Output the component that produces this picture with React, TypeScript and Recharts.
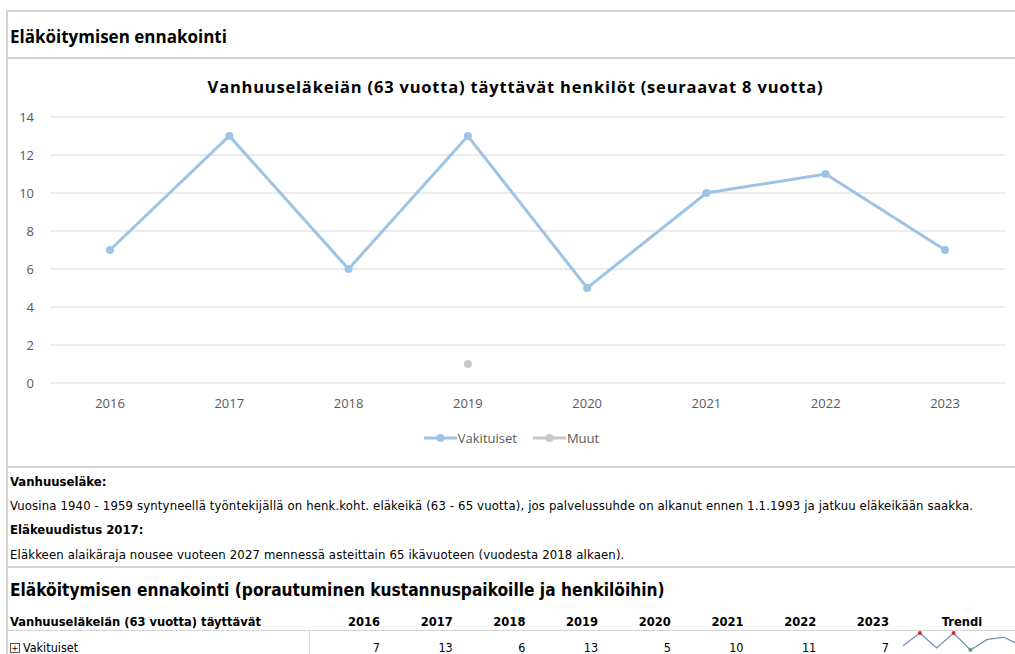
import { LineChart, Line, XAxis, YAxis, CartesianGrid, Legend } from "recharts";

const years = ["2016", "2017", "2018", "2019", "2020", "2021", "2022", "2023"];
const vakituiset = [7, 13, 6, 13, 5, 10, 11, 7];
const muut: (number | null)[] = [null, null, null, 1, null, null, null, null];
const yTicks = [0, 2, 4, 6, 8, 10, 12, 14];
const seriesOrder = ["Vakituiset", "Muut"];

const BLUE = "#9dc3e6";
const GRAY = "#c9c9c9";
const LINE = "#d4d4d4";
const FONT = "'Open Sans', sans-serif";
const NARROW = "'DejaVu Sans Condensed', 'DejaVu Sans', sans-serif";

const chartData = years.map((y, i) => ({
  year: y,
  Vakituiset: vakituiset[i],
  Muut: muut[i],
}));

const maxVal = Math.max(...vakituiset);
const minVal = Math.min(...vakituiset);

function LegendContent({ payload }: any) {
  const items = [...(payload || [])].sort(
    (a: any, b: any) => seriesOrder.indexOf(a.value) - seriesOrder.indexOf(b.value)
  );
  return (
    <div style={{ display: "flex", justifyContent: "center", gap: 16, paddingLeft: 18, fontFamily: FONT, fontSize: 13, color: "#595959" }}>
      {items.map((p: any) => (
        <div key={p.value} style={{ display: "flex", alignItems: "center", height: 20 }}>
          <svg width={33} height={10} style={{ marginRight: 1 }}>
            <line x1={0} y1={5} x2={33} y2={5} stroke={p.color} strokeWidth={3} />
            <circle cx={16.5} cy={5} r={4} fill={p.color} />
          </svg>
          <span>{p.value}</span>
        </div>
      ))}
    </div>
  );
}

function SparkDot(props: any) {
  const { cx, cy, value } = props;
  if (value === maxVal) return <circle cx={cx} cy={cy} r={2} fill="#e02828" />;
  if (value === minVal) return <circle cx={cx} cy={cy} r={2} fill="#4fb04f" />;
  return <g />;
}

function HLine({ y }: { y: number }) {
  return <div style={{ position: "absolute", left: 6, top: y, width: 1009, height: 2, background: LINE }} />;
}

export default function App() {
  return (
    <div style={{ position: "absolute", left: 0, top: 0, width: 1015, height: 654, background: "#fff", overflow: "hidden" }}>
      <div style={{ position: "absolute", left: 6, top: 10, width: 2, height: 644, background: LINE }} />
      <HLine y={10} />
      <HLine y={57} />
      <HLine y={466} />
      <HLine y={566} />

      <div style={{ position: "absolute", left: 10, top: 25, fontFamily: FONT, fontWeight: 700, fontSize: 17, color: "#000" }}>
        Eläköitymisen ennakointi
      </div>

      <div style={{ position: "absolute", left: 8, width: 1015, top: 75, textAlign: "center", fontFamily: FONT, fontWeight: 700, fontSize: 16.5, letterSpacing: 0.8, color: "#000" }}>
        Vanhuuseläkeiän (63 vuotta) täyttävät henkilöt (seuraavat 8 vuotta)
      </div>

      <div style={{ position: "absolute", left: 0, top: 59 }}>
        <LineChart width={1015} height={408} data={chartData} margin={{ top: 58, right: 10, left: 0, bottom: 19 }}>
          <CartesianGrid vertical={false} stroke="#d9d9d9" />
          <XAxis
            dataKey="year"
            axisLine={false}
            tickLine={false}
            tickMargin={10}
            height={45}
            padding={{ left: 60, right: 60 }}
            tick={{ fontSize: 13, fill: "#595959", fontFamily: FONT }}
          />
          <YAxis
            domain={[0, 14]}
            ticks={yTicks}
            axisLine={false}
            tickLine={false}
            tickMargin={10}
            width={50}
            tick={{ fontSize: 13, fill: "#595959", fontFamily: FONT }}
          />
          <Legend verticalAlign="bottom" height={20} content={<LegendContent />} />
          <Line
            dataKey="Vakituiset"
            stroke={BLUE}
            strokeWidth={3}
            dot={{ r: 4, fill: BLUE, stroke: BLUE, strokeWidth: 0 }}
            isAnimationActive={false}
          />
          <Line
            dataKey="Muut"
            stroke={GRAY}
            strokeWidth={3}
            dot={{ r: 4, fill: GRAY, stroke: GRAY, strokeWidth: 0 }}
            isAnimationActive={false}
          />
        </LineChart>
      </div>

      <div style={{ position: "absolute", left: 10, top: 470, fontFamily: NARROW, fontSize: 13, letterSpacing: 0.14, lineHeight: "24.2px", color: "#000" }}>
        <div style={{ fontWeight: 700, letterSpacing: 0 }}>Vanhuuseläke:</div>
        <div>
          Vuosina 1940 - 1959 syntyneellä työntekijällä on henk.koht. eläkeikä (63 - 65 vuotta), jos palvelussuhde on alkanut ennen 1.1.1993 ja jatkuu eläkeikään saakka.
        </div>
        <div style={{ fontWeight: 700, letterSpacing: 0 }}>Eläkeuudistus 2017:</div>
        <div>Eläkkeen alaikäraja nousee vuoteen 2027 mennessä asteittain 65 ikävuoteen (vuodesta 2018 alkaen).</div>
      </div>

      <div style={{ position: "absolute", left: 10, top: 580, fontFamily: NARROW, fontWeight: 700, fontSize: 17.2, color: "#000" }}>
        Eläköitymisen ennakointi (porautuminen kustannuspaikoille ja henkilöihin)
      </div>

      <div style={{ position: "absolute", left: 10, top: 614, fontFamily: NARROW, fontWeight: 700, fontSize: 12.8, color: "#000" }}>
        Vanhuuseläkeiän (63 vuotta) täyttävät
      </div>
      {years.map((y, i) => (
        <div key={y} style={{ position: "absolute", left: 330 + i * 72.7, width: 50, top: 614, textAlign: "right", fontFamily: NARROW, fontWeight: 700, fontSize: 12.8 }}>
          {y}
        </div>
      ))}
      <div style={{ position: "absolute", left: 920, width: 84, top: 614, textAlign: "center", fontFamily: NARROW, fontWeight: 700, fontSize: 12.8 }}>
        Trendi
      </div>
      <div style={{ position: "absolute", left: 6, top: 630, width: 1009, height: 1, background: LINE }} />
      <div style={{ position: "absolute", left: 309, top: 630, width: 1, height: 24, background: LINE }} />

      <div style={{ position: "absolute", left: 10, top: 640, fontFamily: NARROW, fontSize: 12.5, color: "#000", display: "flex", alignItems: "center" }}>
        <span style={{ display: "inline-block", width: 8, height: 8, border: "1px solid #555", fontSize: 9, lineHeight: "8px", textAlign: "center", marginRight: 3 }}>+</span>
        Vakituiset
      </div>
      {vakituiset.map((v, i) => (
        <div key={i} style={{ position: "absolute", left: 330 + i * 72.7, width: 50, top: 640, textAlign: "right", fontFamily: NARROW, fontSize: 12.5 }}>
          {v}
        </div>
      ))}
      <div style={{ position: "absolute", left: 901, top: 630 }}>
        <LineChart width={120} height={24} data={chartData} margin={{ top: 3, right: 0, left: 2, bottom: 4 }}>
          <XAxis dataKey="year" hide padding={{ left: 0, right: 0 }} />
          <YAxis hide domain={["dataMin", "dataMax"]} />
          <Line dataKey="Vakituiset" stroke="#6a8cbb" strokeWidth={1.2} dot={<SparkDot />} isAnimationActive={false} />
        </LineChart>
      </div>
    </div>
  );
}
